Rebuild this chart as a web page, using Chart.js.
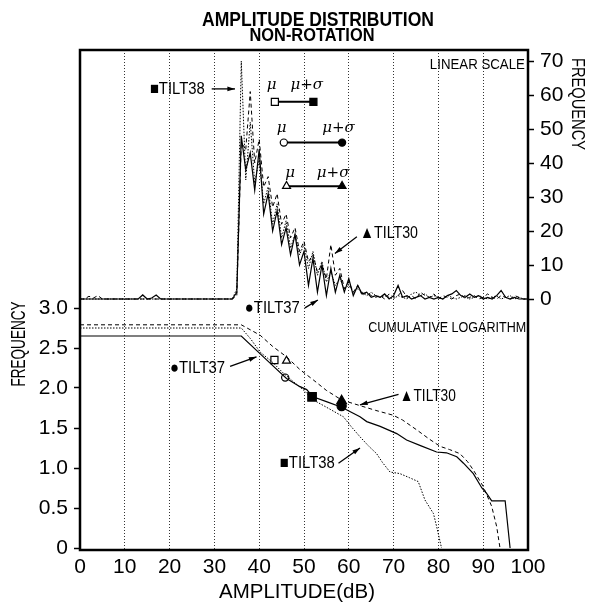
<!DOCTYPE html>
<html>
<head>
<meta charset="utf-8">
<script src="https://cdn.jsdelivr.net/npm/chart.js@4.4.0/dist/chart.umd.min.js"></script>
<style>
  body { margin: 0; background: #fff; }
  #wrap { width: 600px; height: 607px; }
</style>
</head>
<body>
<div id="wrap"><canvas id="chart" width="600" height="607"></canvas></div>
<script>
const FONT = '"Liberation Sans", Arial, sans-serif';

// amplitude axis of the linear-scale histograms (dB)
const ampDb = [
  0, 1, 2, 3, 4, 5, 6, 7, 8, 9, 10, 11, 12, 13, 14, 15, 16, 17, 18, 19,
  20, 21, 22, 23, 24, 25, 26, 27, 28, 29, 30, 31, 32, 33, 34, 35, 36, 37, 38, 39,
  40, 41, 42, 43, 44, 45, 46, 47, 48, 49, 50, 51, 52, 53, 54, 55, 56, 57, 58, 59,
  60, 61, 62, 63, 64, 65, 66, 67, 68, 69, 70, 71, 72, 73, 74, 75, 76, 77, 78, 79,
  80, 81, 82, 83, 84, 85, 86, 87, 88, 89, 90, 91, 92, 93, 94, 95, 96, 97, 98, 99, 100
];

// linear scale frequency, one value per dB
const tilt37Freq = [
  0, 0, 0, 0, 0, 0, 0, 0, 0, 0, 0, 0, 0, 0, 1.2, 0, 0.3, 1.2, 0, 0,
  0, 0, 0, 0, 0, 0, 0, 0, 0, 0, 0, 0, 0, 0, 0, 2, 48, 38, 43, 32,
  44, 25, 31, 20, 26, 16, 21, 13, 19, 10, 14, 4, 12, 2, 10, 1, 9, 2, 7, 2,
  6, 1, 4, 1.5, 2, 0.5, 1, 0.5, 1.5, 0, 1, 4, 0.5, 1, 0, 0.5, 1, 0, 0.5, 0,
  0.5, 0, 1, 1.5, 2.5, 1, 0.5, 1.5, 0.5, 1, 0, 0.5, 0, 1, 2.5, 0.5, 0, 0.5, 0, 0, 0
];
const tilt30Freq = [
  0, 0, 0.8, 0.3, 1, 0, 0, 0, 0, 0, 0, 0, 0, 0, 0, 0, 0, 0, 0, 0,
  0, 0, 0, 0, 0, 0, 0, 0, 0, 0, 0, 0, 0, 0, 0, 1, 46, 44, 61, 40,
  47, 33, 36, 27, 31, 22, 25, 18, 21, 14, 17, 11, 13, 8, 10, 6, 16, 7, 9, 3,
  5, 2, 4, 1, 2, 1, 0.5, 1, 0, 1.5, 0.5, 1, 2.5, 0.5, 1, 0, 2, 1, 0.5, 1.5,
  0, 1, 0.5, 0, 1, 1.5, 0, 0.5, 1, 0, 0.5, 1.5, 0.5, 0, 1, 0.5, 0, 1, 0.5, 0, 0
];
const tilt38Freq = [
  0, 0, 0, 0, 0, 0, 0, 0, 0, 0, 0, 0, 0, 0, 0, 0, 0, 0, 0, 0,
  0, 0, 0, 0, 0, 0, 0, 0, 0, 0, 0, 0, 0, 0, 0, 3, 70, 35, 52, 34,
  41, 28, 33, 22, 28, 18, 23, 15, 19, 13, 16, 9, 14, 7, 11, 5, 8, 4, 6, 3,
  4, 2, 3, 2, 1, 2, 1, 0.5, 1, 0.5, 0, 1, 0.5, 0, 1.5, 2, 1, 1.5, 0.5, 1,
  0.5, 0, 1, 0.5, 0, 0.5, 1, 0, 0.5, 1, 0.5, 0, 0.5, 1, 0, 0.5, 1, 0, 0.5, 0, 0
];

// cumulative logarithm curves
const cum37Db  = [0, 36, 39.4, 43.2, 46.1, 49, 50.6, 52, 55, 58.4, 62.5, 64, 67, 70.7, 72.9, 76, 79.6, 81.8, 84.1, 85.6, 87.8, 89.7, 90.8, 91.9, 94.9, 96];
const cum37Log = [2.65, 2.65, 2.47, 2.27, 2.12, 2.02, 1.98, 1.89, 1.83, 1.76, 1.64, 1.58, 1.52, 1.43, 1.35, 1.28, 1.2, 1.19, 1.14, 1.06, 0.93, 0.75, 0.68, 0.59, 0.59, 0];
const cum30Db  = [0, 36, 40.2, 43, 46.1, 49.1, 52.1, 55, 58.4, 62.5, 66, 69.9, 72, 75.2, 78, 80.4, 82.5, 84.8, 86.5, 87.8, 90, 91.9, 93, 93.75];
const cum30Log = [2.79, 2.79, 2.66, 2.52, 2.39, 2.23, 2.1, 1.97, 1.85, 1.78, 1.72, 1.66, 1.6, 1.475, 1.36, 1.27, 1.23, 1.18, 1.08, 0.975, 0.77, 0.52, 0.27, 0];
const cum38Db  = [0, 36, 38, 40.2, 43, 45.5, 47.6, 50, 52.1, 55, 58.8, 60.5, 62.5, 64.5, 66.2, 67.5, 69.2, 71.4, 73.5, 75.5, 77, 78.9, 79.6, 80.7];
const cum38Log = [2.75, 2.75, 2.62, 2.45, 2.32, 2.18, 2.08, 1.97, 1.85, 1.76, 1.64, 1.52, 1.39, 1.27, 1.18, 1.07, 0.95, 0.93, 0.88, 0.83, 0.6, 0.43, 0.27, 0];

// mean (mu) and mean + sigma markers: TILT38, TILT37, TILT30
const markerStyles = ['rect', 'circle', 'triangle'];
const muDb = [43.5, 45.5, 46.1];
const muSigmaDb = [52.1, 58.5, 58.5];
const markerRowFreq = [58.0, 46.0, 33.2];
const cumMuDb = [43.4, 45.8, 46.1];
const cumMuLog = [2.35, 2.13, 2.34];
const cumMuSigmaDb = [51.8, 58.4, 58.4];
const cumMuSigmaLog = [1.89, 1.775, 1.84];

// tick labels
const xTicks = [0, 10, 20, 30, 40, 50, 60, 70, 80, 90, 100];
const leftTicks = [0, 0.5, 1, 1.5, 2, 2.5, 3];
const leftTickLabels = ['0', '0.5', '1.0', '1.5', '2.0', '2.5', '3.0'];
const rightTicks = [0, 10, 20, 30, 40, 50, 60, 70];

// text notes, placed in data units of the given axis
const notes = [
  { t: '■TILT38', x: 15.6, y: 61.8, ax: 'yR', w: 55 },
  { t: '▲TILT30', x: 62.5, y: 19.4, ax: 'yR', w: 58 },
  { t: '●TILT37', x: 36.8, y: -2.6, ax: 'yR', w: 55 },
  { t: 'LINEAR SCALE', x: 99.3, y: 68.8, ax: 'yR', align: 'right', w: 95, size: 15 },
  { t: 'CUMULATIVE LOGARITHM', x: 99.6, y: 2.75, ax: 'yL', align: 'right', w: 158, size: 15 },
  { t: '●TILT37', x: 20.1, y: 2.25, ax: 'yL', w: 55 },
  { t: '▲TILT30', x: 71.4, y: 1.9, ax: 'yL', w: 56 },
  { t: '■TILT38', x: 44.6, y: 1.06, ax: 'yL', w: 55 }
];
const muNotes = [
  { t: 'μ', x: 42.8, y: 62.9 }, { t: 'μ+σ', x: 50.6, y: 62.9 },
  { t: 'μ', x: 45.0, y: 50.3 }, { t: 'μ+σ', x: 57.7, y: 50.3 },
  { t: 'μ', x: 46.9, y: 37.1 }, { t: 'μ+σ', x: 56.5, y: 37.1 }
];
const arrows = [
  { x1: 29.4, y1: 61.8, x2: 34.6, y2: 61.8, ax: 'yR' },
  { x1: 61.8, y1: 18.3, x2: 56.9, y2: 13.4, ax: 'yR' },
  { x1: 50.2, y1: -2.6, x2: 53.1, y2: -0.3, ax: 'yR' },
  { x1: 33.5, y1: 2.27, x2: 39.4, y2: 2.39, ax: 'yL' },
  { x1: 71.1, y1: 1.92, x2: 62.5, y2: 1.79, ax: 'yL' },
  { x1: 57.7, y1: 1.06, x2: 62.5, y2: 1.25, ax: 'yL' }
];

const pts = (xs, ys) => xs.map((x, i) => ({ x: x, y: ys[i] }));

function lineSet(data, axis, dash, width) {
  return {
    data: data, yAxisID: axis, borderColor: '#000', borderWidth: width,
    borderDash: dash, pointRadius: 0, fill: false, tension: 0
  };
}

const datasets = [
  lineSet(pts(ampDb, tilt38Freq), 'yR', [1.5, 1.5], 1),
  lineSet(pts(ampDb, tilt30Freq), 'yR', [4, 3], 1),
  lineSet(pts(ampDb, tilt37Freq), 'yR', [], 1.2),
  lineSet(pts(cum38Db, cum38Log), 'yL', [1.5, 1.5], 1),
  lineSet(pts(cum30Db, cum30Log), 'yL', [4, 3], 1),
  lineSet(pts(cum37Db, cum37Log), 'yL', [], 1.2)
];

const radius = { rect: 5, circle: 3.6, triangle: 4.6 };
markerStyles.forEach((style, i) => {
  datasets.push({
    data: [{ x: muDb[i], y: markerRowFreq[i] }, { x: muSigmaDb[i], y: markerRowFreq[i] }],
    yAxisID: 'yR', showLine: true, borderColor: '#000', borderWidth: 2,
    pointStyle: style, pointRadius: radius[style], pointBorderWidth: 1.2,
    pointBorderColor: '#000', pointBackgroundColor: ['#fff', '#000']
  });
  datasets.push({
    data: [{ x: cumMuDb[i], y: cumMuLog[i] }, { x: cumMuSigmaDb[i], y: cumMuSigmaLog[i] }],
    yAxisID: 'yL', showLine: false,
    pointStyle: style, pointRadius: [radius[style], radius[style] + 1], pointBorderWidth: 1.2,
    pointBorderColor: '#000', pointBackgroundColor: ['#fff', '#000']
  });
});

// draw text squeezed to a given width (the original lettering is condensed)
function fitText(ctx, text, cx, cy, font, width, rot) {
  ctx.save();
  ctx.font = font;
  ctx.textAlign = 'center';
  ctx.textBaseline = 'middle';
  ctx.translate(cx, cy);
  if (rot) ctx.rotate(rot);
  const w = ctx.measureText(text).width;
  ctx.scale(width / w, 1);
  ctx.fillText(text, 0, 0);
  ctx.restore();
}

const decorPlugin = {
  id: 'decor',
  beforeDraw(chart) {
    const ctx = chart.ctx;
    ctx.save();
    ctx.fillStyle = '#fff';
    ctx.fillRect(0, 0, chart.width, chart.height);
    ctx.restore();
  },
  afterDraw(chart) {
    const { ctx, chartArea: a, scales } = chart;
    const X = scales.x;
    ctx.save();
    ctx.fillStyle = '#000';
    ctx.strokeStyle = '#000';

    // frame
    ctx.lineWidth = 2.5;
    ctx.strokeRect(a.left, a.top, a.right - a.left, a.bottom - a.top);

    // titles
    fitText(ctx, 'AMPLITUDE DISTRIBUTION', 318, 20, 'bold 20px ' + FONT, 232);
    fitText(ctx, 'NON-ROTATION', 312, 36, 'bold 19px ' + FONT, 125);
    fitText(ctx, 'AMPLITUDE(dB)', 297, 592, '20px ' + FONT, 156);
    fitText(ctx, 'FREQUENCY', 19, 344, '20px ' + FONT, 85, -Math.PI / 2);
    fitText(ctx, 'FREQUENCY', 577, 104, '18px ' + FONT, 92, Math.PI / 2);

    // notes
    notes.forEach(n => {
      const px = X.getPixelForValue(n.x);
      const cx = n.align === 'right' ? px - n.w / 2 : px + n.w / 2;
      fitText(ctx, n.t, cx, scales[n.ax].getPixelForValue(n.y), (n.size || 17) + 'px ' + FONT, n.w);
    });
    ctx.font = 'italic 15px "DejaVu Serif", serif';
    ctx.textAlign = 'center';
    ctx.textBaseline = 'middle';
    muNotes.forEach(n => {
      ctx.fillText(n.t, X.getPixelForValue(n.x), scales.yR.getPixelForValue(n.y));
    });

    // arrows
    ctx.lineWidth = 1.3;
    arrows.forEach(r => {
      const Y = scales[r.ax];
      const x1 = X.getPixelForValue(r.x1), y1 = Y.getPixelForValue(r.y1);
      const x2 = X.getPixelForValue(r.x2), y2 = Y.getPixelForValue(r.y2);
      const ang = Math.atan2(y2 - y1, x2 - x1);
      ctx.beginPath();
      ctx.moveTo(x1, y1);
      ctx.lineTo(x2, y2);
      ctx.stroke();
      ctx.beginPath();
      ctx.moveTo(x2, y2);
      ctx.lineTo(x2 - 8 * Math.cos(ang - 0.3), y2 - 8 * Math.sin(ang - 0.3));
      ctx.lineTo(x2 - 8 * Math.cos(ang + 0.3), y2 - 8 * Math.sin(ang + 0.3));
      ctx.closePath();
      ctx.fill();
    });
    ctx.restore();
  }
};

const tickFont = { family: FONT, size: 21 };

new Chart(document.getElementById('chart'), {
  type: 'line',
  data: { datasets: datasets },
  options: {
    responsive: false,
    animation: false,
    layout: { padding: { top: 50, left: 0, right: 0, bottom: 0 } },
    plugins: { legend: { display: false }, tooltip: { enabled: false }, title: { display: false } },
    scales: {
      x: {
        type: 'linear', min: 0, max: 100,
        afterBuildTicks: s => { s.ticks = xTicks.map(v => ({ value: v })); },
        afterFit: s => { s.height = 57; },
        grid: { color: '#333', lineWidth: 1, drawTicks: false },
        border: { display: false, dash: [1, 2] },
        ticks: { font: tickFont, color: '#000', padding: 5, maxRotation: 0 }
      },
      yL: {
        position: 'left', min: -0.025, max: 6.225,
        afterBuildTicks: s => { s.ticks = leftTicks.map(v => ({ value: v })); },
        afterFit: s => { s.width = 80; },
        grid: { drawOnChartArea: false, tickLength: 6, tickColor: '#000', tickWidth: 1.5 },
        border: { display: false },
        ticks: {
          font: tickFont, color: '#000', padding: 6,
          callback: v => { const i = leftTicks.indexOf(v); return i >= 0 ? leftTickLabels[i] : ''; }
        }
      },
      yR: {
        position: 'right', min: -73.82, max: 73.24,
        afterBuildTicks: s => { s.ticks = rightTicks.map(v => ({ value: v })); },
        afterFit: s => { s.width = 72; },
        grid: { drawOnChartArea: false, tickLength: 6, tickColor: '#000', tickWidth: 1.5 },
        border: { display: false },
        ticks: { font: tickFont, color: '#000', padding: 6 }
      }
    }
  },
  plugins: [decorPlugin]
});
</script>
</body>
</html>
